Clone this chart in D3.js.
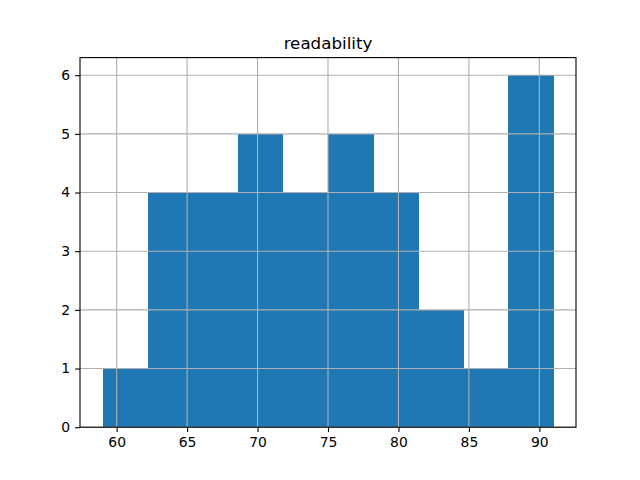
<!DOCTYPE html>
<html><head><meta charset="utf-8">
<script src="https://cdn.jsdelivr.net/npm/d3@7"></script>
<style>body{margin:0;background:#fff}svg{display:block}text{font-family:"DejaVu Sans",sans-serif}</style>
</head><body><svg id="c" width="640" height="480"></svg>
<script>
const binEdges = [59.0, 62.2, 65.4, 68.6, 71.8, 75.0, 78.2, 81.4, 84.6, 87.8, 91.0];
const counts = [1, 4, 4, 5, 4, 5, 4, 2, 1, 6];
const xTicks = [60, 65, 70, 75, 80, 85, 90];
const yTicks = [0, 1, 2, 3, 4, 5, 6];
const title = "readability";

const svg = d3.select("#c");
const L = 80, R = 576, T = 57.6, B = 427.2;
const lo = binEdges[0], hi = binEdges[binEdges.length - 1], pad = (hi - lo) * 0.05;
const x = d3.scaleLinear().domain([lo - pad, hi + pad]).range([L, R]);
const y = d3.scaleLinear().domain([0, d3.max(counts) * 1.05]).range([B, T]);

const bars = counts.map((c, i) => ({x0: binEdges[i], x1: binEdges[i + 1], c}));
svg.append("g").attr("shape-rendering", "crispEdges").selectAll("rect").data(bars).join("rect")
  .attr("x", d => x(d.x0)).attr("width", d => x(d.x1) - x(d.x0) + 0.5)
  .attr("y", d => y(d.c)).attr("height", d => y(0) - y(d.c))
  .attr("fill", "#1f77b4");

// grid
const g = svg.append("g").attr("stroke", "#b0b0b0").attr("stroke-width", 1.1);
xTicks.forEach(t => g.append("line").attr("x1", x(t)).attr("x2", x(t)).attr("y1", T).attr("y2", B));
yTicks.forEach(t => g.append("line").attr("x1", L).attr("x2", R).attr("y1", y(t)).attr("y2", y(t)));

// axes
const xa = svg.append("g").attr("transform", `translate(0,${B})`)
  .call(d3.axisBottom(x).tickValues(xTicks).tickFormat(d3.format("d")).tickSize(4.9).tickPadding(4.9));
const ya = svg.append("g").attr("transform", `translate(${L},0)`)
  .call(d3.axisLeft(y).tickValues(yTicks).tickFormat(d3.format("d")).tickSize(4.9).tickPadding(4.9));
[xa, ya].forEach(a => {
  a.select(".domain").remove();
  a.selectAll("line").attr("stroke", "#000").attr("stroke-width", 1.1);
  a.selectAll("text").attr("font-size", 13.9).attr("fill", "#000").attr("font-family", "DejaVu Sans");
});

svg.append("rect").attr("x", L).attr("y", T).attr("width", R - L).attr("height", B - T)
  .attr("fill", "none").attr("stroke", "#000").attr("stroke-width", 1.1);

svg.append("text").attr("x", (L + R) / 2).attr("y", T - 8.3).attr("text-anchor", "middle")
  .attr("font-size", 16.7).attr("fill", "#000").text(title);
</script></body></html>
